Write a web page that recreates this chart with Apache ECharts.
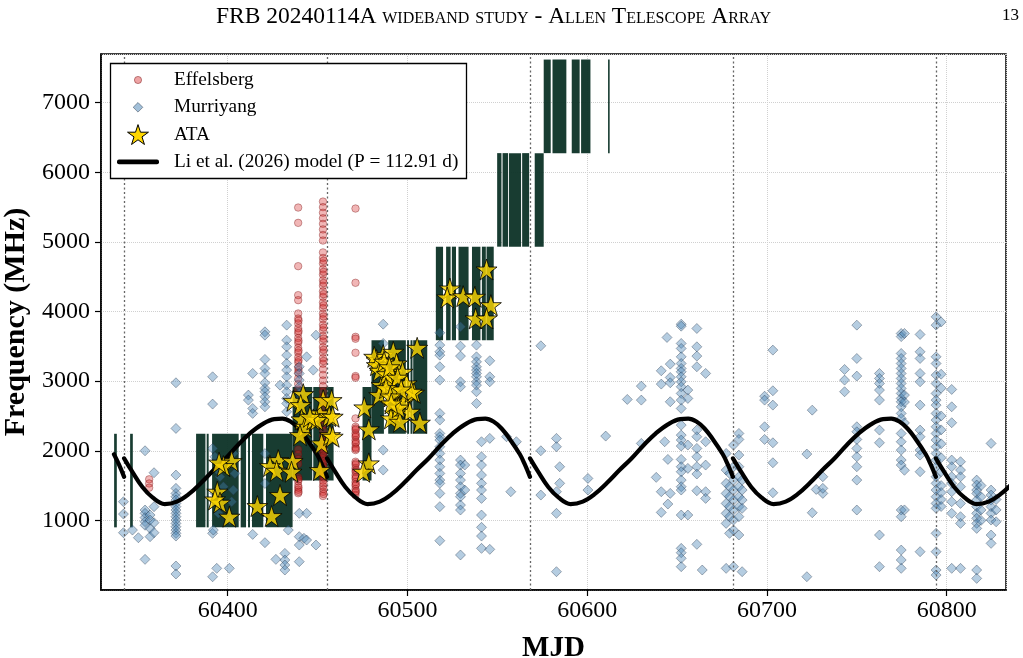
<!DOCTYPE html>
<html><head><meta charset="utf-8">
<script src="https://cdn.jsdelivr.net/npm/echarts@6/dist/echarts.min.js"></script>
<style>html,body{margin:0;padding:0;background:#fff}#c{width:1023px;height:658px}</style>
</head><body><div id="c"></div>
<script>
// ---------- data ----------
const xMin = 60329.5, xMax = 60833, yMin = 0, yMax = 7700;
const periodEpoch = 60342.35, periodDays = 112.91, periodCount = 5;

// model curve shape read along one cycle (phase, MHz)
const modelPhase = [0.00, 0.04, 0.09, 0.14, 0.20, 0.26, 0.32, 0.38, 0.44, 0.50, 0.56, 0.62, 0.68, 0.74, 0.78, 0.82, 0.86, 0.90, 0.95, 0.975, 1.00];
const modelFreq  = [1891, 1700, 1480, 1330, 1235, 1270, 1380, 1540, 1720, 1890, 2080, 2250, 2380, 2455, 2462, 2420, 2320, 2170, 1950, 1800, 1625];
const modelStart = 60336.5;

// ATA observing windows: [startMJD, endMJD, loMHz, hiMHz]
const ataWindows = [
 [60336.8,60338.3,900,2244],[60345.7,60347.2,900,2244],[60382.4,60387.6,900,2244],[60388.3,60389.4,900,2244],
 [60391.3,60406.1,900,2244],[60407.2,60410.2,900,2244],[60411.3,60412.4,900,2244],[60413.5,60419.8,900,2244],
 [60421.3,60436.1,900,2244],
 [60436.1,60447.0,1572,2916],[60447.6,60458.9,1572,2916],[60475.0,60480.0,1572,2916],
 [60480.0,60486.9,2244,3588],[60489.3,60499.1,2244,3588],[60499.8,60500.9,2244,3588],[60501.7,60502.8,2244,3588],[60503.2,60511.0,2244,3588],
 [60515.8,60519.8,3588,4932],[60521.5,60524.0,3588,4932],[60524.7,60527.0,3588,4932],[60528.4,60534.0,3588,4932],
 [60535.9,60540.6,3588,4932],[60541.4,60543.6,3588,4932],[60544.0,60548.0,3588,4932],
 [60549.9,60552.3,4932,6276],[60552.9,60556.0,4932,6276],[60556.5,60563.2,4932,6276],[60563.8,60567.7,4932,6276],[60570.8,60575.8,4932,6276],
 [60575.8,60579.7,6276,7620],[60580.7,60588.4,6276,7620],[60591.4,60595.8,6276,7620],[60596.6,60601.8,6276,7620],[60611.6,60612.5,6276,7620]
];

// Effelsberg bursts: [MJD, [MHz...]]
const effelsbergCols = [
 [60356.3,[1590,1530,1470]],
 [60439.2,[5494,5274,4652,4236,4164,3972,3900,3830,3760,3690,3620,3550,3480,3410,3340,3270,3200,3120,3040,2960,2880,2020,1950,1880,1810,1620,1560,1500,1440,1390]],
 [60439.4,[3870,3720,3580,3440,3300,3160,1590,1470,1410]],
 [60453.0,[5580,5500,5420,5340,5260,5180,5100,5020,4850,4770,4690,4610,4530,4450,4370,4290,4210,4130,4050,3970,3890,3810,3730,3650,3570,3490,3410,3330,3250,3170,3090,3010,2930,2850,2770,2690,2610,2530,2450,2370,2290,2210,2130,2050,1970,1890,1810,1730,1650,1570,1490,1410,1350]],
 [60453.3,[4730,4570,4410,4250,4090,3930,3770,3610,3450,3290,2010,1930,1850,1770,1690,1610,1530,1450,1380]],
 [60471.1,[5480,4413,3637,3610,3408,3073,3050,2465,2345,2300,2250,2200,2150,2100,2050,2010,1843,1800,1750,1700,1650,1600,1550,1500,1450,1400,1364]],
 [60471.3,[2320,2220,2120,2030,1820,1720,1620,1520,1420]]
];

// Murriyang bursts: [MJD, [MHz...]]
const murriyangCols = [
 [60342.0,[1268,1091,823]],[60347.0,[861]],[60350.3,[751]],
 [60354.0,[2000,1149,1101,1040,981,930,440]],[60356.8,[1077,1005,885,766]],[60359.0,[1685,1197,967,823]],
 [60371.2,[2977,2321,1651,1460,1388,1340,1292,1244,1197,1149,1101,1053,1005,957,909,861,814,775,345,230]],
 [60391.6,[3063,2671,2034,814,190]],[60392.9,[1914,1388]],[60393.9,[311]],[60394.2,[1723]],[60394.8,[1101]],
 [60395.7,[1627]],[60397.6,[1484]],[60392.0,[861]],[60403.1,[1962,1436]],[60404.0,[1675]],[60402.2,[1268]],
 [60401.3,[1005]],[60400.9,[311]],
 [60411.5,[2800,2728]],[60413.9,[3111,2608,2537,799]],
 [60420.7,[3709,3661,3312,3183,3111,2977,2896,2848,2776,2704,2632,1960,1530,680]],
 [60426.8,[440]],[60429.1,[2943]],[60431.8,[526,431,359,287]],
 [60432.8,[3805,3589,3494,3374,3254,3159,3063,2943,2848,2752,2680,2560]],[60433.7,[861]],
 [60439.8,[3207,3111,3015,2920,2824,2728,1101,766,646,407]],
 [60442.4,[742]],[60443.9,[3350,1101,718]],[60447.6,[3159]],[60449.1,[3661,646]],
 [60486.5,[3819,3542,2010,1723]],
 [60518.0,[3695,3518,3422,3374,3207,3015,2537,2441,2249,2202,2154,2058,1962,1867,1771,1675,1579,1532,1388,1197,708]],
 [60529.5,[3781,3503,3360,2991,2920,1867,1795,1675,1579,1484,1388,1340,1220,1149,503]],
 [60531.9,[1795,1436]],
 [60538.4,[3518,3350,3278,3207,3159,3111,3063,2991,2943,2848,2680]],
 [60541.2,[2130,1914,1795,1651,1532,1436,1316,1077,900,775,598]],
 [60545.8,[3293,3063,2991,2178,584]],
 [60555.1,[2202]],[60557.5,[1412]],[60560.6,[2130]],
 [60574.2,[3508,2000,1364]],[60582.9,[2178,2058,1412,1101,263]],[60584.7,[1771,1532]],
 [60600.4,[1603,1436]],[60610.3,[2211]],[60622.3,[2738]],[60630.1,[2929,2728,2106]],[60638.4,[1618]],
 [60641.2,[3149,2958,1412,1115]],[60643.1,[2130]],[60644.4,[3628]],[60644.9,[1876,1235]],
 [60646.2,[3245,3053,2977,2704,1388]],
 [60652.3,[3819,3790,3542,3470,3350,3254,3183,3135,3063,2991,2920,2824,2728,2608,2369,2225,2154,2068,1876,1771,1699,1579,1484,1436,1077,598,536,455,335]],
 [60656.0,[2872,2752,2082,1747,1077]],
 [60661.0,[3757,3494,3360,3207,2297,2202,2034,1914,1771,1666,1426,656]],
 [60664.0,[287]],[60665.9,[3111,2130,1795,1412,1316]],
 [60677.3,[1962,1723,1532,1388,1244,1101,957,311]],
 [60679.2,[1675,1484,1340,1197,1053,814]],
 [60681.4,[2082,1771,1579,1436,1292,1149,1005,861,335]],
 [60684.4,[2249,2163,1938,1771,1627,1484,1340,1197,1053,790]],
 [60686.2,[1579,1436,1292,1173,263]],
 [60698.7,[2784,2728,2345,2163]],[60703.3,[3446,2862,2656,2115,1828,1397]],
 [60722.2,[1953,191]],[60725.2,[2584,1110]],[60727.4,[1445]],[60731.1,[1627,1388,1460]],
 [60743.2,[3168,3015,2848]],
 [60750.0,[3805,3326,3073,2345,2273,2163,2034,1914,1771,1579,1149]],
 [60762.6,[3111,3039,2967,2872,2728,2297,2115,790,335]],
 [60774.7,[3685,3640,3398,3326,3254,3183,3111,3039,2967,2896,2824,2752,2704,2632,2537,2465,2249,2130,2010,1867,1795,1149,1053,574,431,311]],
 [60776.5,[3685,2800,2700,2400,1720,1150]],
 [60785.2,[3671,3422,3326,3111,2991,2656,2297,2202,2010,1938,1699,550]],
 [60794.1,[3924,3805,3350,3254,3087,2967,2824,2728,2656,2537,2441,2345,2249,2154,2058,1962,1867,1771,1627,1532,1436,1340,1244,1173,814,550,287,215]],
 [60796.9,[3850,3100,2900,2500,2300,2100,1900,1700,1500,1400,1300,1200]],
 [60802.8,[2881,2632,2403,1867,1771,1627,1532,1412,1268,1101,311]],
 [60807.7,[1843,1723,1627,1484,1244,1053,957,311]],
 [60816.7,[1579,1508,1436,1388,1292,1197,1101,1029,957,885,287,167]],
 [60819.1,[1500,1340,1150,1000]],
 [60824.7,[2106,1436,1364,1292,1197,1101,1005,790,670]],
 [60827.5,[1300,1150,980]]
];

// ATA bursts: [MJD, MHz]
const ataBursts = [
 [60402.2,1852],[60397.6,1780],[60395.2,1830],[60394.2,1412],[60395.7,1254],[60392.9,1300],[60400.9,1053],
 [60416.5,1206],[60424.4,1062],[60429.1,1364],[60428.1,1866],[60423.5,1780],[60427.2,1713],[60436.1,1852],[60435.5,1699],
 [60436.5,2718],[60442.0,2814],[60440.6,2656],[60441.1,2451],[60443.0,2345],[60440.2,2225],[60447.6,2451],[60451.3,2537],
 [60453.1,2728],[60457.8,2728],[60456.5,2498],[60452.2,2106],[60456.9,2225],[60451.3,1723],[60449.5,2441],[60445.7,2488],
 [60458.4,2489],[60458.4,2202],
 [60476.0,2623],[60478.5,2307],[60478.5,1819],[60475.4,1699],[60486.5,3374],[60482.8,3302],[60492.1,3422],[60493.9,3254],
 [60497.3,3135],[60505.4,3479],[60485.6,2943],[60484.3,2800],[60493.9,2704],[60498.0,2704],[60503.6,2833],[60501.3,2560],
 [60493.0,2537],[60490.8,2465],[60495.8,2417],[60506.9,2403],[60489.3,3063],[60491.1,2991],[60499.5,2967],[60502.3,2848],
 [60481.5,3350],[60483.0,3230],[60484.5,3150],[60487.0,3280],[60488.5,3100],[60490.0,3200],[60492.5,2880],[60494.5,3050],
 [60496.5,2880],[60488.0,2900],[60490.5,2780],[60495.0,2620],[60491.0,2680],
 [60544.0,4604],[60523.6,4331],[60522.1,4202],[60531.0,4221],[60537.5,4212],[60546.4,4092],[60537.9,3901],[60544.0,3901]
];

const legendNames = ['Effelsberg','Murriyang','ATA','Li et al. (2026) model (P = 112.91 d)'];
const titleText = 'FRB 20240114A wideband study - Allen Telescope Array';
const pageNumber = '13';

// ---------- styles ----------
const SERIF = '"Liberation Serif","Times New Roman",serif';
const EFF_STYLE = {color:'rgba(214,39,40,0.42)', borderColor:'rgba(110,0,0,0.55)', borderWidth:0.8};
const MUR_STYLE = {color:'rgba(70,130,180,0.5)', borderColor:'rgba(35,50,70,0.6)', borderWidth:0.8};
const ATA_STYLE = {color:'#FFD700', borderColor:'#000', borderWidth:1};
const WIN_COLOR = '#0c3226';

// ---------- build ----------
function flatten(cols){ const out=[]; cols.forEach(c=>c[1].forEach(f=>out.push([c[0],f]))); return out; }
const effData = flatten(effelsbergCols);
const murData = flatten(murriyangCols);

const modelData = [];
for (let k = -1; k < periodCount; k++) {
  let any = false;
  modelPhase.forEach((p,i)=>{
    const t = periodEpoch + (k + p) * periodDays;
    if (t >= modelStart) { modelData.push([t, modelFreq[i]]); any = true; }
  });
  if (any) modelData.push(['-','-']);
}
const periodLines = [];
for (let k = 0; k < periodCount; k++) periodLines.push({xAxis: periodEpoch + k * periodDays});

function starPoints(cx, cy, R){
  const pts=[];
  for(let i=0;i<10;i++){
    const a=-Math.PI/2+i*Math.PI/5, r=(i%2)?R*0.382:R;
    pts.push([cx+r*Math.cos(a), cy+r*Math.sin(a)]);
  }
  return pts;
}
const STAR = 'path://' + starPoints(0,0,1).map((p,i)=>(i?'L':'M')+p[0].toFixed(4)+','+p[1].toFixed(4)).join('') + 'Z';

// legend layout (pixels)
const LX = 138, ROWS = [80, 107.3, 134.6, 161.9];

const chart = echarts.init(document.getElementById('c'), null, {renderer:'canvas'});

const option = {
  backgroundColor:'#fff',
  animation:false,
  title:[
    {text:titleText, left:211, top:0, textStyle:{fontFamily:SERIF, fontSize:23.5, fontWeight:'normal', fontStyle:'small-caps', color:'#000'}},
    {text:pageNumber, left:997, top:2, textStyle:{fontFamily:SERIF, fontSize:17, fontWeight:'normal', color:'#000'}}
  ],
  grid:{left:101, right:17, top:54, bottom:68, show:true, borderColor:'#000', borderWidth:1.5, backgroundColor:'transparent',
        containLabel:false, outerBoundsMode:'none'},
  xAxis:{
    type:'value', min:xMin, max:xMax, splitNumber:5,
    name:'MJD', nameLocation:'middle', nameGap:44,
    nameTextStyle:{fontFamily:SERIF, fontSize:29, fontWeight:'bold', color:'#000'},
    axisLine:{show:true, onZero:false, lineStyle:{color:'#000', width:1.5}},
    axisTick:{show:true, length:6, lineStyle:{color:'#000', width:1.2}},
    axisLabel:{fontFamily:SERIF, fontSize:24, color:'#000', margin:9, showMinLabel:false, showMaxLabel:false,
      formatter:v=> (Math.abs(v%100)<1e-6 ? String(v) : '')},
    splitLine:{show:true, lineStyle:{color:'#d0d0d0', type:'dotted', width:1}}
  },
  yAxis:{
    type:'value', min:yMin, max:yMax, interval:1000,
    name:'Frequency (MHz)', nameLocation:'middle', nameGap:70, nameRotate:90,
    nameTextStyle:{fontFamily:SERIF, fontSize:30, fontWeight:'bold', color:'#000'},
    axisLine:{show:true, onZero:false, lineStyle:{color:'#000', width:1.5}},
    axisTick:{show:true, length:6, lineStyle:{color:'#000', width:1.2}},
    axisLabel:{fontFamily:SERIF, fontSize:24, color:'#000', margin:11, showMinLabel:false, showMaxLabel:false,
      formatter:v=> (v>0 && v%1000===0 ? String(v) : '')},
    splitLine:{show:true, lineStyle:{color:'#d0d0d0', type:'dotted', width:1}}
  },
  legend:{
    data:legendNames.map(n=>({name:n, icon:'rect', itemStyle:{color:'rgba(0,0,0,0)', borderWidth:0, opacity:0}})),
    orient:'vertical', left:112, top:ROWS[0]-10, padding:0, itemGap:7.3, itemWidth:57, itemHeight:10,
    selectedMode:false, z:100,
    textStyle:{fontFamily:SERIF, fontSize:19.3, color:'#000', lineHeight:20}
  },
  graphic:{elements:[
    {type:'rect', z:90, silent:true, shape:{x:110.5, y:63.5, width:356, height:115}, style:{fill:'#fff', stroke:'#000', lineWidth:1.3}},
    {type:'circle', z:95, silent:true, shape:{cx:LX, cy:ROWS[0], r:3.6}, style:{fill:EFF_STYLE.color, stroke:EFF_STYLE.borderColor, lineWidth:0.8}},
    {type:'polygon', z:95, silent:true, shape:{points:[[LX,ROWS[1]-4.8],[LX+4.8,ROWS[1]],[LX,ROWS[1]+4.8],[LX-4.8,ROWS[1]]]}, style:{fill:MUR_STYLE.color, stroke:MUR_STYLE.borderColor, lineWidth:0.8}},
    {type:'polygon', z:95, silent:true, shape:{points:starPoints(LX, ROWS[2]+1, 11)}, style:{fill:ATA_STYLE.color, stroke:'#000', lineWidth:1}},
    {type:'rect', z:95, silent:true, shape:{x:117, y:ROWS[3]-2.3, width:42, height:4.6, r:2}, style:{fill:'#000'}}
  ]},
  series:[
    {
      type:'custom', name:'ATA windows', z:1, silent:true, clip:true,
      data:ataWindows,
      renderItem:(params, api)=>{
        const p0 = api.coord([api.value(0), api.value(3)]);
        const p1 = api.coord([api.value(1), api.value(2)]);
        const w = Math.max(p1[0]-p0[0], 1.5);
        return {type:'rect', shape:{x:p0[0], y:p0[1], width:w, height:p1[1]-p0[1]},
          style:{fill:WIN_COLOR, opacity:0.95}};
      },
      encode:{x:[0,1], y:[2,3]}
    },
    {type:'scatter', name:legendNames[0], data:effData, symbol:'circle', symbolSize:7.5, z:3, itemStyle:EFF_STYLE},
    {type:'scatter', name:legendNames[1], data:murData, symbol:'diamond', symbolSize:10, z:4, itemStyle:MUR_STYLE},
    {
      type:'line', name:legendNames[3], data:modelData, showSymbol:false, symbol:'none', smooth:0.4,
      connectNulls:false, z:5, color:'#000',
      lineStyle:{color:'#000', width:4.2, cap:'round'}, itemStyle:{color:'#000'},
      markLine:{silent:true, symbol:'none', label:{show:false}, animation:false,
        lineStyle:{color:'#666', type:[2,2.5], width:1.3}, data:periodLines}
    },
    {type:'scatter', name:legendNames[2], data:ataBursts, symbol:STAR, symbolSize:21, z:6, itemStyle:ATA_STYLE}
  ]
};
chart.setOption(option);
</script></body></html>
